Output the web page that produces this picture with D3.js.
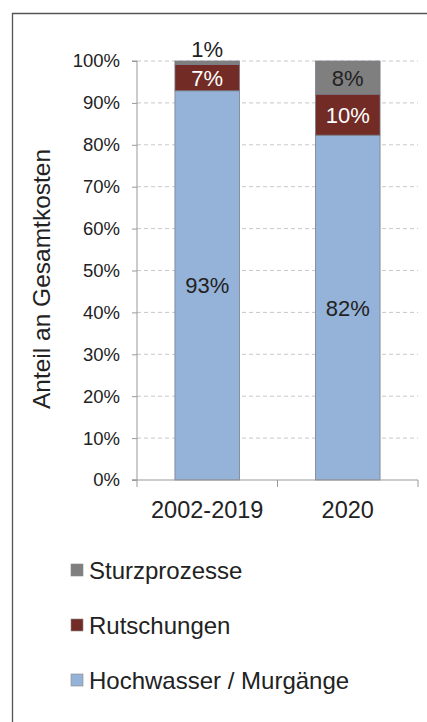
<!DOCTYPE html>
<html>
<head>
<meta charset="utf-8">
<script src="https://cdn.jsdelivr.net/npm/d3@7"></script>
<style>
  body { margin: 0; background: #fff; }
  text { font-family: "Liberation Sans", Arial, sans-serif; fill: #222; }
</style>
</head>
<body>
<div id="chart"></div>
<script>
// data
var categories = ["2002-2019", "2020"];
var seriesNames = ["Hochwasser / Murgänge", "Rutschungen", "Sturzprozesse"];
var hochwasser = [92.9, 82.3];
var rutschungen = [6.3, 9.8];
var sturz = [0.8, 7.9];
var labelsHochwasser = ["93%", "82%"];
var labelsRutschungen = ["7%", "10%"];
var labelsSturz = ["1%", "8%"];
var yTicks = [0, 10, 20, 30, 40, 50, 60, 70, 80, 90, 100];
var colors = ["#95b2d8", "#722b25", "#7f7f7f"];

var svgWidth = 427;
var svgHeight = 722;

var svg = d3.select("#chart")
    .append("svg")
    .attr("width", svgWidth)
    .attr("height", svgHeight);

// frame (top + left)
svg.append("path")
    .attr("d", "M12.5,722 L12.5,13.5 L427,13.5")
    .attr("fill", "none")
    .attr("stroke", "#555")
    .attr("stroke-width", 1.3);

var plot = { left: 137, right: 418, top: 61, bottom: 480 };

var x = d3.scaleBand()
    .domain(categories)
    .range([plot.left, plot.right])
    .paddingInner(0.54)
    .paddingOuter(0.27);

var y = d3.scaleLinear()
    .domain([0, 100])
    .range([plot.bottom, plot.top]);

// gridlines
svg.append("g")
    .selectAll("line")
    .data(yTicks.filter(d => d > 0))
    .enter()
    .append("line")
    .attr("x1", plot.left)
    .attr("x2", plot.right)
    .attr("y1", d => y(d))
    .attr("y2", d => y(d))
    .attr("stroke", "#c8c8c8")
    .attr("stroke-dasharray", "4,3");

// stack data
var table = categories.map(function (c, i) {
    return { cat: c, h: hochwasser[i], r: rutschungen[i], s: sturz[i] };
});
var stack = d3.stack().keys(["h", "r", "s"]);
var layers = stack(table);

var groups = svg.selectAll("g.layer")
    .data(layers)
    .enter()
    .append("g")
    .attr("class", "layer")
    .attr("fill", (d, i) => colors[i]);

groups.selectAll("rect")
    .data(d => d)
    .enter()
    .append("rect")
    .attr("x", d => x(d.data.cat))
    .attr("width", x.bandwidth())
    .attr("y", d => y(d[1]))
    .attr("height", d => y(d[0]) - y(d[1]))
    .attr("stroke", "#7a7f8a")
    .attr("stroke-width", 0.8);

// axes
var leftAxis = d3.axisLeft(y)
    .tickValues(yTicks)
    .tickFormat(d => d + "%")
    .tickSize(5)
    .tickPadding(12);

var yAxisG = svg.append("g")
    .attr("transform", `translate(${plot.left},0)`)
    .call(leftAxis);
yAxisG.select(".domain").attr("stroke", "#999").attr("d", `M-5,${plot.top}H0V${plot.bottom}H-5`);
yAxisG.selectAll(".tick line").attr("stroke", "#999");
yAxisG.selectAll(".tick text").attr("font-size", "18.5px").style("fill", "#222");

// x axis line with ticks at band boundaries
var xBoundaries = [plot.left, (x(categories[0]) + x.bandwidth() + x(categories[1])) / 2, plot.right];
svg.append("line")
    .attr("x1", plot.left - 5).attr("x2", plot.right)
    .attr("y1", plot.bottom).attr("y2", plot.bottom)
    .attr("stroke", "#999");
svg.selectAll("line.xtick")
    .data(xBoundaries)
    .enter()
    .append("line")
    .attr("class", "xtick")
    .attr("x1", d => d).attr("x2", d => d)
    .attr("y1", plot.bottom).attr("y2", plot.bottom + 7)
    .attr("stroke", "#999");

svg.selectAll("text.xlabel")
    .data(categories)
    .enter()
    .append("text")
    .attr("class", "xlabel")
    .attr("x", d => x(d) + x.bandwidth() / 2)
    .attr("y", 518)
    .attr("text-anchor", "middle")
    .attr("font-size", "23.5px")
    .text(d => d);

// y axis title
svg.append("text")
    .attr("transform", "rotate(-90)")
    .attr("x", -279)
    .attr("y", 50)
    .attr("text-anchor", "middle")
    .attr("font-size", "24.5px")
    .text("Anteil an Gesamtkosten");

// value labels
categories.forEach(function (c, i) {
    var cx = x(c) + x.bandwidth() / 2;
    svg.append("text")
        .attr("x", cx)
        .attr("y", y(hochwasser[i] / 2) + 8)
        .attr("text-anchor", "middle")
        .attr("font-size", "22px")
        .text(labelsHochwasser[i]);
    svg.append("text")
        .attr("x", cx)
        .attr("y", y(hochwasser[i] + rutschungen[i] / 2) + 8)
        .attr("text-anchor", "middle")
        .attr("font-size", "22px")
        .style("fill", "#fff")
        .text(labelsRutschungen[i]);
    var top = hochwasser[i] + rutschungen[i];
    var sy = sturz[i] < 3 ? y(100) - 4 : y(top + sturz[i] / 2) + 8;
    svg.append("text")
        .attr("x", cx)
        .attr("y", sy)
        .attr("text-anchor", "middle")
        .attr("font-size", "22px")
        .text(labelsSturz[i]);
});

// legend
var legendOrder = [2, 1, 0];
var legend = svg.selectAll("g.legend")
    .data(legendOrder)
    .enter()
    .append("g")
    .attr("class", "legend")
    .attr("transform", (d, i) => `translate(71, ${570 + i * 55})`);

legend.append("rect")
    .attr("x", 0).attr("y", -6)
    .attr("width", 12).attr("height", 12)
    .attr("fill", d => colors[d])
    .attr("stroke", "#888")
    .attr("stroke-width", 0.6);

legend.append("text")
    .attr("x", 18)
    .attr("y", 8.5)
    .attr("font-size", "24px")
    .text(d => seriesNames[d]);
</script>
</body>
</html>
